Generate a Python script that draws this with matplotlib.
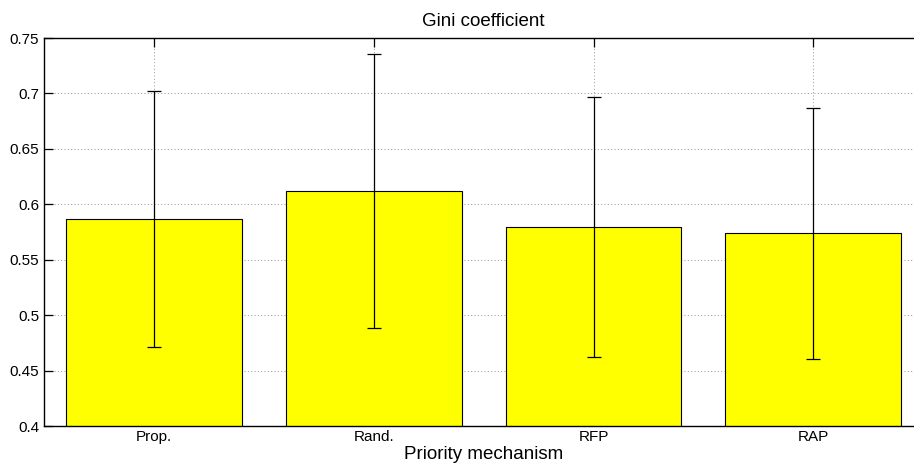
import numpy as np
import matplotlib
matplotlib.use("Agg")
import matplotlib.pyplot as plt

plt.rcParams['font.family'] = ['Liberation Sans', 'DejaVu Sans']

# values
mechanisms = ['Prop.', 'Rand.', 'RFP', 'RAP']
gini_mean = [0.587, 0.612, 0.5793, 0.5738]
gini_err = [0.1155, 0.1235, 0.1175, 0.1134]
yticks = [0.4, 0.45, 0.5, 0.55, 0.6, 0.65, 0.7, 0.75]
ytick_labels = ['0.4', '0.45', '0.5', '0.55', '0.6', '0.65', '0.7', '0.75']

fig = plt.figure(figsize=(9.14, 4.66), dpi=100)
# the original is cropped on the right, so the axes run past the figure edge
ax = fig.add_axes([44/914, 40/466, 879.3/914, 388/466])

x = np.arange(1, len(mechanisms) + 1)
ax.set_axisbelow(True)
ax.grid(True, linestyle=(0, (1, 2.2)), color='#a0a0a0', linewidth=0.75)
ax.bar(x, gini_mean, width=0.8, color='#ffff00', edgecolor='black', linewidth=0.8, zorder=2)
ax.errorbar(x, gini_mean, yerr=gini_err, fmt='none', ecolor='black',
            elinewidth=0.9, capsize=4.7, capthick=0.9, zorder=3)

ax.set_xlim(0.5, 4.5)
ax.set_ylim(0.4, 0.75)
ax.set_xticks(x)
ax.set_xticklabels(mechanisms)
ax.set_yticks(yticks)
ax.set_yticklabels(ytick_labels)
ax.tick_params(direction='in', length=6.5, width=0.9, top=True, right=True,
               labelsize=11, colors='black')
ax.tick_params(axis='x', pad=3)
for sp in ax.spines.values():
    sp.set_linewidth(1.0)

ax.set_title('Gini coefficient', fontsize=13.5, pad=9)
ax.set_xlabel('Priority mechanism', fontsize=13.5, labelpad=1)

fig.savefig('out.png', dpi=100)
